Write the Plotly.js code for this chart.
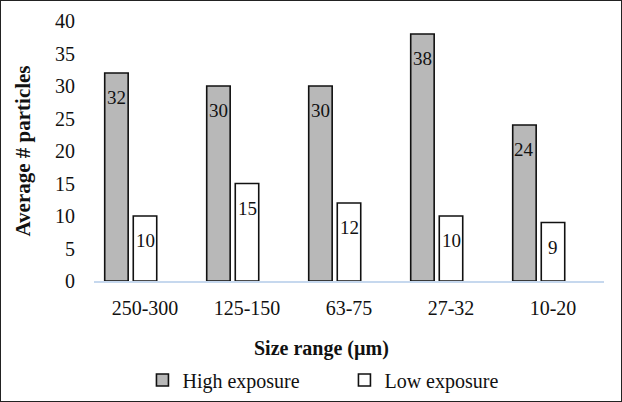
<!DOCTYPE html>
<html lang="en">
<head>
    <meta charset="UTF-8">
    <title>Average particles by size range</title>
    <script src="https://cdn.plot.ly/plotly-3.0.1.min.js"></script>
    <style>
        body { margin: 0; background: #ffffff; }
        #chart {
            width: 622px;
            height: 402px;
            box-sizing: border-box;
            border: 1px solid #222;
        }
    </style>
</head>
<body>
    <div id="chart"></div>
    <script>
        // size ranges (µm) and average particle counts
        const sizeRanges = ['250-300', '125-150', '63-75', '27-32', '10-20'];
        const highExposure = [32, 30, 30, 38, 24];
        const lowExposure = [10, 15, 12, 10, 9];
        const yTicks = [0, 5, 10, 15, 20, 25, 30, 35, 40];

        const serif = 'Liberation Serif, Times New Roman, serif';

        // bars sit left of the category centre (the original had an empty third slot)
        const barWidth = 0.23;
        const highOffset = -0.395;
        const lowOffset = -0.115;

        const high = {
            x: sizeRanges,
            y: highExposure,
            name: 'High exposure',
            type: 'bar',
            width: barWidth,
            offset: highOffset,
            marker: { color: '#b8b8b8', line: { color: '#111', width: 1.6 } },
            hoverinfo: 'skip'
        };

        const low = {
            x: sizeRanges,
            y: lowExposure,
            name: 'Low exposure',
            type: 'bar',
            width: barWidth,
            offset: lowOffset,
            marker: { color: '#ffffff', line: { color: '#111', width: 1.6 } },
            hoverinfo: 'skip'
        };

        // value labels just under the top of each bar
        function barLabels(values, offset) {
            return values.map((v, i) => ({
                x: i + offset + barWidth / 2,
                y: v,
                xref: 'x',
                yref: 'y',
                text: String(v),
                showarrow: false,
                yanchor: 'top',
                yshift: -12,
                font: { family: serif, size: 19, color: '#111' }
            }));
        }

        const annotations = barLabels(highExposure, highOffset)
            .concat(barLabels(lowExposure, lowOffset));

        // x title sits a bit left of the plot centre, as in the original
        annotations.push({
            text: '<b>Size range (µm)</b>',
            xref: 'paper',
            yref: 'paper',
            x: 0.447,
            y: -0.258,
            xanchor: 'center',
            yanchor: 'middle',
            showarrow: false,
            font: { family: serif, size: 20, color: '#111' }
        });

        const layout = {
            width: 620,
            height: 400,
            margin: { l: 93, r: 17, t: 20, b: 120 },
            paper_bgcolor: '#ffffff',
            plot_bgcolor: '#ffffff',
            font: { family: serif, size: 20, color: '#111' },
            barmode: 'overlay',
            showlegend: true,
            legend: {
                orientation: 'h',
                xref: 'paper',
                yref: 'container',
                x: 0.095,
                xanchor: 'left',
                y: 0.0525,
                yanchor: 'middle',
                font: { family: serif, size: 20 },
                itemwidth: 30,
                entrywidth: 157,
                traceorder: 'normal'
            },
            annotations: annotations,
            xaxis: {
                range: [-0.5, 4.5],
                showline: true,
                linecolor: '#c6d8ee',
                linewidth: 1.5,
                showgrid: false,
                zeroline: false,
                ticks: '',
                ticklabelstandoff: 8,
                automargin: false,
                tickfont: { family: serif, size: 20 }
            },
            yaxis: {
                title: { text: '<b>Average # particles</b>', font: { family: serif, size: 21 }, standoff: 18 },
                range: [0, 40],
                tickvals: yTicks,
                showgrid: false,
                zeroline: false,
                showline: false,
                ticks: '',
                ticklabelstandoff: 18,
                automargin: false,
                tickfont: { family: serif, size: 20 }
            }
        };

        Plotly.newPlot('chart', [high, low], layout, { staticPlot: true, displayModeBar: false });
    </script>
</body>
</html>
